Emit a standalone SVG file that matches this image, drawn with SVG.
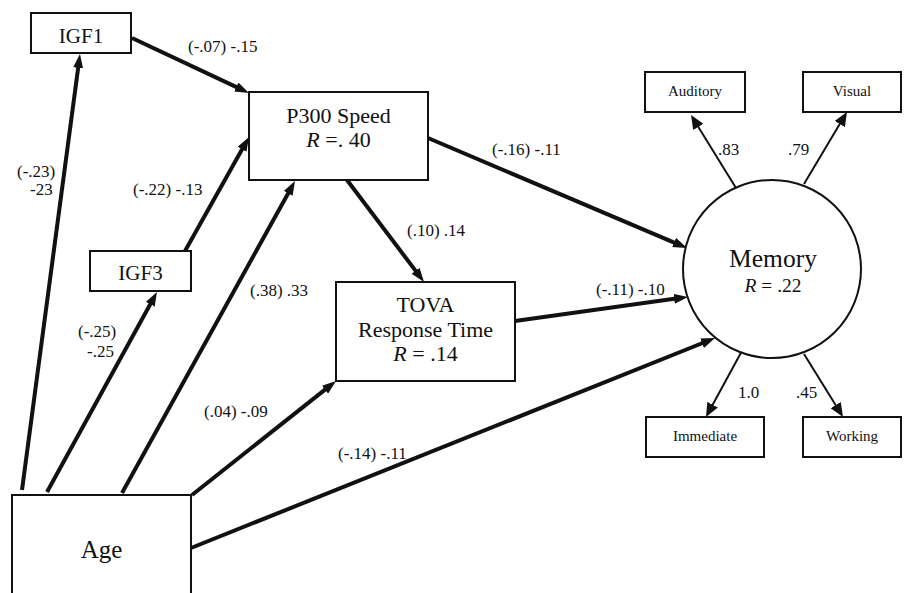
<svg xmlns="http://www.w3.org/2000/svg" width="904" height="593" viewBox="0 0 904 593">
<style>
text{font-family:"Liberation Serif","Times New Roman",serif;fill:#111}
.box{fill:#fff;stroke:#111;stroke-width:2}
.n{font-size:21px;text-anchor:middle}
.big{font-size:22px;text-anchor:middle}
.sm{font-size:15px;text-anchor:middle}
.lab{font-size:17px}
.thick{stroke:#111;stroke-width:4;fill:none;marker-end:url(#ah)}
.thin{stroke:#111;stroke-width:2;fill:none;marker-end:url(#ahs)}
.it{font-style:italic}
</style>
<defs>
<marker id="ah" markerUnits="userSpaceOnUse" markerWidth="14" markerHeight="10" refX="2" refY="5" orient="auto">
<path d="M0,0 L14,5 L0,10 z" fill="#111"/>
</marker>
<marker id="ahs" markerUnits="userSpaceOnUse" markerWidth="14" markerHeight="12" refX="2" refY="6" orient="auto">
<path d="M0,0 L14,6 L0,12 z" fill="#111"/>
</marker>
</defs>
<rect width="904" height="593" fill="#fff"/>
<g id="connectors">
<path class="thick" d="M22,490 L78.4,65.9"/>
<path class="thick" d="M47,492 L151.2,302.5"/>
<path class="thick" d="M122,493 L289.2,191.5"/>
<path class="thick" d="M192,495 L326.6,388.4"/>
<path class="thick" d="M191,548 L703.9,342.5"/>
<path class="thick" d="M132,38 L238.1,87.9"/>
<path class="thick" d="M185,251 L243.1,147.5"/>
<path class="thick" d="M347,180 L416.8,272.4"/>
<path class="thick" d="M428,138 L676,243.3"/>
<path class="thick" d="M515,321 L676.1,298.6"/>
<path class="thin" d="M736,188 L697.3,125.2"/>
<path class="thin" d="M804,184 L840.8,122.3"/>
<path class="thin" d="M743,349 L711.7,406.5"/>
<path class="thin" d="M804,354 L836.7,406.8"/>
<text class="lab" x="188" y="52">(-.07) -.15</text>
<text class="lab" x="17" y="177">(-.23)</text>
<text class="lab" x="30" y="195">-23</text>
<text class="lab" x="133" y="195">(-.22) -.13</text>
<text class="lab" x="492" y="155">(-.16) -.11</text>
<text class="lab" x="407" y="236">(.10) .14</text>
<text class="lab" x="250" y="296">(.38) .33</text>
<text class="lab" x="78" y="337">(-.25)</text>
<text class="lab" x="87" y="357">-.25</text>
<text class="lab" x="204" y="417">(.04) -.09</text>
<text class="lab" x="338" y="459">(-.14) -.11</text>
<text class="lab" x="596" y="295">(-.11) -.10</text>
<text class="lab" x="718" y="155">.83</text>
<text class="lab" x="788" y="155">.79</text>
<text class="lab" x="738" y="398">1.0</text>
<text class="lab" x="796" y="398">.45</text>
</g>
<g id="igf1">
<rect class="box" x="31" y="13" width="100" height="40"/>
<text class="n" x="81" y="43">IGF1</text>
</g>
<g id="igf3">
<rect class="box" x="90" y="251" width="101" height="40"/>
<text class="n" x="140.5" y="280">IGF3</text>
</g>
<g id="p300">
<rect class="box" x="249" y="92" width="179" height="88"/>
<text class="big" x="338.5" y="123">P300 Speed</text>
<text class="big" x="338.5" y="147"><tspan class="it">R</tspan> =. 40</text>
</g>
<g id="tova">
<rect class="box" x="336" y="282" width="179" height="99"/>
<text class="big" x="425.5" y="312">TOVA</text>
<text class="big" x="425.5" y="337">Response Time</text>
<text class="big" x="425.5" y="361"><tspan class="it">R</tspan> = .14</text>
</g>
<g id="age">
<rect class="box" x="12" y="495" width="179" height="110"/>
<text class="big" x="101.5" y="558" style="font-size:25px">Age</text>
</g>
<g id="memory">
<circle cx="772" cy="269" r="89" fill="#fff" stroke="#111" stroke-width="2"/>
<text x="773" y="267" style="font-size:25.5px;text-anchor:middle">Memory</text>
<text x="773" y="292" style="font-size:19.5px;text-anchor:middle"><tspan class="it">R</tspan> = .22</text>
</g>
<g id="auditory">
<rect class="box" x="645" y="72" width="100" height="40"/>
<text class="sm" x="695" y="96">Auditory</text>
</g>
<g id="visual">
<rect class="box" x="803" y="72" width="98" height="40"/>
<text class="sm" x="852" y="96">Visual</text>
</g>
<g id="immediate">
<rect class="box" x="646" y="417" width="118" height="40"/>
<text class="sm" x="705" y="441">Immediate</text>
</g>
<g id="working">
<rect class="box" x="803" y="417" width="98" height="40"/>
<text class="sm" x="852" y="441">Working</text>
</g>
</svg>
